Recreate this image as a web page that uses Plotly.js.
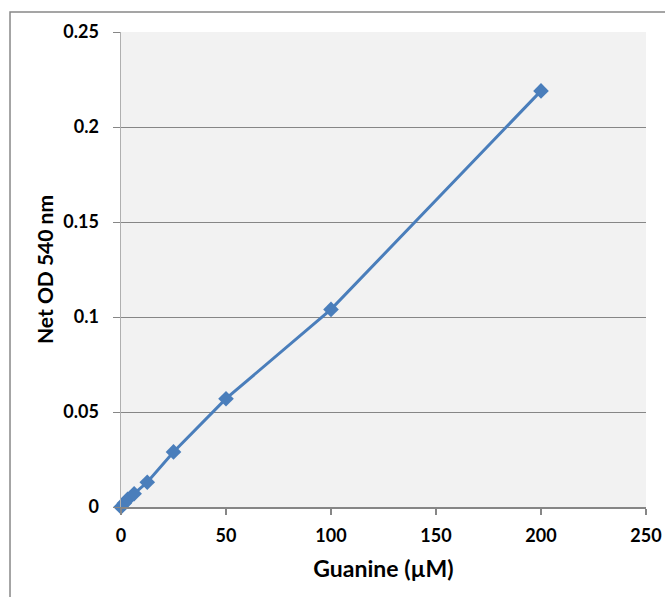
<!DOCTYPE html>
<html>
<head>
<meta charset="utf-8">
<script src="https://cdn.plot.ly/plotly-3.0.1.min.js"></script>
<style>html,body{margin:0;padding:0;background:#fff;}#chart{width:665px;height:597px;}</style>
</head>
<body>
<div id="chart"></div>
<script>
const guanine = [0, 1.5625, 3.125, 6.25, 12.5, 25, 50, 100, 200];
const netOD = [0, 0.002, 0.004, 0.007, 0.013, 0.029, 0.057, 0.104, 0.219];
const xTicks = [0, 50, 100, 150, 200, 250];
const yTicks = [0, 0.05, 0.1, 0.15, 0.2, 0.25];
const yTickText = ['0', '0.05', '0.1', '0.15', '0.2', '0.25'];

const fam = 'Lato, Carlito, Calibri, sans-serif';
const tickFont = {family: fam, size: 18, color: '#000', weight: 'bold'};
const xTitleFont = {family: fam, size: 23, color: '#000', weight: 'bold'};
const yTitleFont = {family: fam, size: 21, color: '#000', weight: 'bold'};

Plotly.newPlot('chart', [{
  x: guanine, y: netOD, type: 'scatter', mode: 'lines+markers',
  cliponaxis: false,
  line: {color: '#4A7EBB', width: 3},
  marker: {symbol: 'diamond', size: 12, color: '#4A7EBB'}
}], {
  width: 665, height: 597,
  margin: {l: 121, r: 19, t: 32, b: 90},
  paper_bgcolor: '#fff', plot_bgcolor: '#F2F2F2',
  showlegend: false,
  font: {family: fam, color: '#000'},
  xaxis: {
    range: [0, 250], tickvals: xTicks, ticktext: xTicks.map(String),
    showgrid: false, zeroline: false, showline: true, linecolor: '#868686', linewidth: 1.5,
    ticks: 'outside', ticklen: 6, tickcolor: '#868686', tickwidth: 1.5,
    ticklabelstandoff: 6,
    tickfont: tickFont,
    title: {text: 'Guanine (µM)', font: xTitleFont, standoff: 16}
  },
  yaxis: {
    range: [0, 0.25], tickvals: yTicks, ticktext: yTickText,
    showgrid: true, gridcolor: '#868686', gridwidth: 1,
    zeroline: false, showline: true, linecolor: '#B0B0B0', linewidth: 1.5,
    ticks: 'outside', ticklen: 7, tickcolor: '#868686', tickwidth: 1,
    ticklabelstandoff: 10,
    tickfont: tickFont,
    title: {text: 'Net OD 540 nm', font: yTitleFont, standoff: 4}
  },
  shapes: [{
    type: 'path', xref: 'paper', yref: 'paper',
    path: 'M -0.2114 -0.3 L -0.2114 1.0421 L 1.1 1.0421',
    line: {color: '#888888', width: 1.5}
  }]
}, {displayModeBar: false, staticPlot: true});
</script>
</body>
</html>
